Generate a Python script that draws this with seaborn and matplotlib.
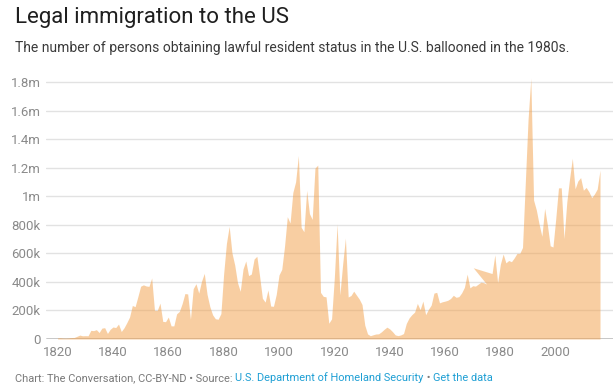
import matplotlib
matplotlib.use("Agg")
import matplotlib.pyplot as plt
import matplotlib.ticker as mticker
import pandas as pd
import seaborn as sns

# ── Data: persons obtaining lawful permanent resident status (DHS) ───────────
# Yearly rows 1820-2016. The source chart draws its 1976 row at x = 1970.2,
# which is what makes the odd little wedge in the 1970s.
YEARS = list(range(1820, 1976)) + [1970.2] + list(range(1977, 2017))

PERSONS = [
    8385, 9127, 6911, 6354, 7912, 10199, 10837, 18875, 27382, 22520,              # 1820s
    23322, 22633, 60482, 58640, 65365, 45374, 76242, 79340, 38914, 68069,         # 1830s
    84066, 80289, 104565, 52496, 78615, 114371, 154416, 234968, 226527, 297024,   # 1840s
    369980, 379466, 371603, 368645, 427833, 200877, 200436, 251306, 123126, 121282,
    153640, 91918, 91985, 176282, 193418, 248120, 318568, 315722, 138840, 352768,
    387203, 321350, 404806, 459803, 313339, 227498, 169986, 141857, 138469, 177826,
    457257, 669431, 788992, 603322, 518592, 395346, 334203, 490109, 546889, 444427,
    455302, 560319, 579663, 439730, 285631, 258536, 343267, 230832, 229299, 311715,
    448572, 487918, 648743, 857046, 812870, 1026499, 1100735, 1285349, 782870, 751786,
    1041570, 878587, 838172, 1197892, 1218480, 326700, 298826, 295403, 110618, 141132,
    430001, 805228, 309556, 522919, 706896, 294314, 304488, 335175, 307255, 279678,
    241700, 97139, 35576, 23068, 29470, 34956, 36329, 50244, 67895, 82998,
    70756, 51776, 28781, 23725, 28551, 38119, 108721, 147292, 170570, 188317,
    249187, 205717, 265520, 170434, 208177, 237790, 321625, 326867, 253265, 260686,
    265398, 271344, 283763, 306260, 292248, 296697, 323040, 361972, 454448, 358579,
    373326, 370478, 384685, 398515, 393919, 385378, 499093, 458755, 589810, 394244,
    524295, 595014, 533624, 550052, 541811, 568149, 600027, 599889, 641346, 1090172,
    1535872, 1826595, 973445, 903916, 803993, 720177, 915589, 797847, 653206, 644787,
    841002, 1058902, 1059356, 703542, 957883, 1122257, 1266129, 1052415, 1107126, 1130818,
    1042625, 1062040, 1031631, 990553, 1016518, 1051031, 1183505,                 # 2010s
]

X_TICKS = list(range(1820, 2001, 20))
Y_TICKS = [0, 200000, 400000, 600000, 800000, 1000000,
           1200000, 1400000, 1600000, 1800000]

TITLE    = "Legal immigration to the US"
SUBTITLE = ("The number of persons obtaining lawful resident status "
            "in the U.S. ballooned in the 1980s.")
FOOTER = [
    ("Chart: The Conversation, CC-BY-ND \u2022 Source: ", "gray"),
    ("U.S. Department of Homeland Security", "link"),
    (" \u2022 ", "gray"),
    ("Get the data", "link"),
]

# ── Style ────────────────────────────────────────────────────────────────────
AREA_COLOR = "#f29f47"
GRID_COLOR = "#e2e2e2"
TICK_COLOR = "#8a8a8a"
FOOT_GRAY  = "#7a7a7a"
LINK_BLUE  = "#1e9fd4"

sns.set_theme(style="white")
plt.rcParams["font.family"] = ["Roboto", "DejaVu Sans"]


def fmt_persons(v, _pos):
    if v == 0:
        return "0"
    if v >= 1e6:
        return f"{v / 1e6:g}m"
    return f"{v / 1e3:g}k"


def main():
    df = pd.DataFrame({"year": YEARS, "persons": PERSONS})

    fig = plt.figure(figsize=(6.13, 3.90), dpi=100)
    ax = fig.add_axes([46 / 613, 51 / 390, 1 - 46 / 613, 264 / 390])

    ax.axhline(0, color="black", lw=1.0, zorder=1)
    sns.lineplot(data=df, x="year", y="persons", sort=False,
                 color=AREA_COLOR, lw=0, ax=ax, zorder=2)
    ax.fill_between(df["year"], df["persons"], 0,
                    color=AREA_COLOR, alpha=0.5, lw=0, zorder=2)

    ax.set_xlim(1815.8, 2020.7)
    ax.set_ylim(0, 1.85e6)
    ax.set_xticks(X_TICKS)
    ax.set_yticks(Y_TICKS)
    ax.yaxis.set_major_formatter(mticker.FuncFormatter(fmt_persons))
    ax.set_xlabel("")
    ax.set_ylabel("")

    ax.grid(axis="y", color=GRID_COLOR, lw=1.0, zorder=0)
    ax.grid(axis="x", visible=False)
    ax.set_axisbelow(True)
    for s in ax.spines.values():
        s.set_visible(False)
    ax.tick_params(axis="both", length=0, labelsize=9.5,
                   labelcolor=TICK_COLOR)
    ax.tick_params(axis="y", pad=4)
    ax.tick_params(axis="x", pad=5)

    fig.text(15 / 613, 1 - 18 / 390, TITLE, fontsize=16,
             color="#1f1f1f", va="center", ha="left")
    fig.text(15 / 613, 1 - 48 / 390, SUBTITLE, fontsize=10,
             color="#3a3a3a", va="center", ha="left")

    # footer: pieces placed one after another so the links can be blue
    renderer = fig.canvas.get_renderer()
    x = 15 / 613
    for text, kind in FOOTER:
        t = fig.text(x, 1 - 378 / 390, text, fontsize=7.9,
                     color=LINK_BLUE if kind == "link" else FOOT_GRAY,
                     va="center", ha="left")
        bb = t.get_window_extent(renderer=renderer)
        x = fig.transFigure.inverted().transform((bb.x1, bb.y0))[0]

    fig.savefig("out.png", dpi=100)
    plt.close(fig)


if __name__ == "__main__":
    main()
